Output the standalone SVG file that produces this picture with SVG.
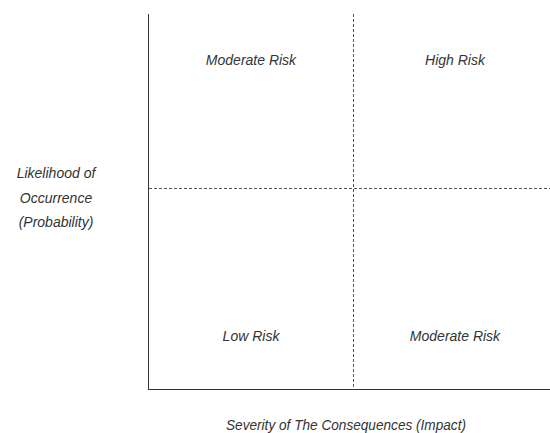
<svg xmlns="http://www.w3.org/2000/svg" width="550" height="433" viewBox="0 0 550 433">
<style>
text{font-family:"Liberation Sans",Arial,sans-serif;font-size:14px;font-style:italic;fill:#333;text-anchor:middle}
.axis{stroke:#333;stroke-width:1;fill:none}
.dash{stroke:#555;stroke-width:1;stroke-dasharray:3,2;fill:none}
</style>
<rect width="550" height="433" fill="#fff"/>
<g id="connectors">
<line class="axis" x1="148.5" y1="14" x2="148.5" y2="389.5"/>
<line class="axis" x1="148" y1="389.5" x2="550" y2="389.5"/>
<line class="dash" x1="353.5" y1="14" x2="353.5" y2="389"/>
<line class="dash" x1="149" y1="188.5" x2="550" y2="188.5"/>
</g>
<g id="q-moderate-top"><text x="251" y="65">Moderate Risk</text></g>
<g id="q-high"><text x="455" y="65">High Risk</text></g>
<g id="q-low"><text x="251" y="341">Low Risk</text></g>
<g id="q-moderate-bottom"><text x="455" y="341">Moderate Risk</text></g>
<g id="y-label">
<text x="56" y="178">Likelihood of</text>
<text x="56" y="203">Occurrence</text>
<text x="56" y="227">(Probability)</text>
</g>
<g id="x-label"><text x="346" y="430" textLength="240" lengthAdjust="spacingAndGlyphs">Severity of The Consequences (Impact)</text></g>
</svg>
